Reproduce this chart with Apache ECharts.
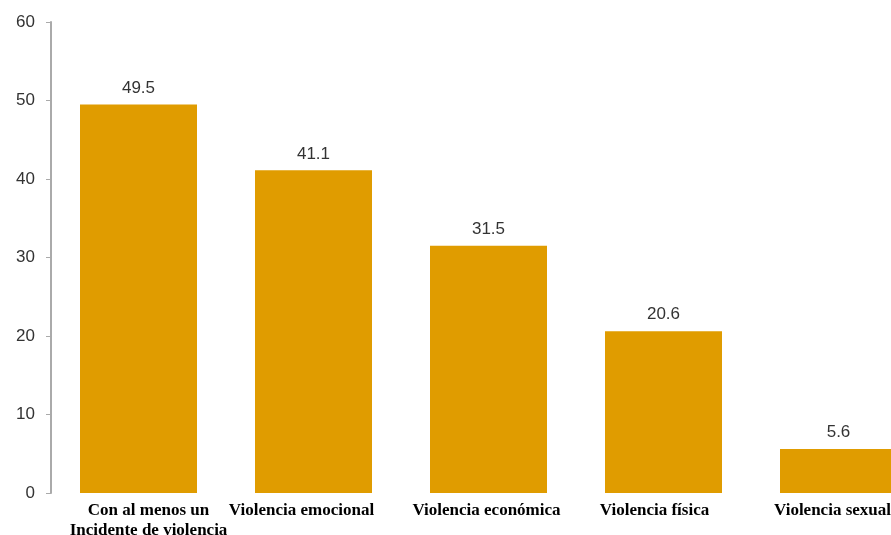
<html>
<head>
    <title>Violencia</title>
    <script src="https://cdn.jsdelivr.net/npm/echarts@6/dist/echarts.min.js"></script>
</head>
<body style="margin:0;">
<div id="chart" style="width: 891px; height: 535px;"></div>
<script type="text/javascript">
    var categories = ['Con al menos un\nIncidente de violencia', 'Violencia emocional', 'Violencia económica', 'Violencia física', 'Violencia sexual'];
    var values = [49.5, 41.1, 31.5, 20.6, 5.6];
    var yTicks = [0, 60, 10];
    // small nudges of the category labels (px, + = left), as in the source picture
    var labelShift = [-10, 12, 2, 9, 6];

    var myChart = echarts.init(document.getElementById('chart'));

    var catData = categories.map(function (c, i) {
        var s = labelShift[i];
        var pad = s >= 0 ? [0, s * 2, 0, 0] : [0, 0, 0, -s * 2];
        return { value: c, textStyle: { padding: pad } };
    });

    var option = {
        animation: false,
        grid: {
            left: 51,
            top: 22,
            bottom: 42,
            right: -35,
            outerBoundsMode: 'none',
            containLabel: false
        },
        xAxis: {
            type: 'category',
            data: catData,
            axisLine: { show: false },
            axisTick: { show: false },
            axisLabel: {
                interval: 0,
                margin: 8,
                fontFamily: 'Liberation Serif',
                fontWeight: 'bold',
                fontSize: 17,
                lineHeight: 20,
                color: '#000'
            }
        },
        yAxis: {
            type: 'value',
            min: yTicks[0],
            max: yTicks[1],
            interval: yTicks[2],
            splitLine: { show: false },
            axisLine: { show: true, lineStyle: { color: '#aaa', width: 2 } },
            axisTick: { show: true, length: 5, lineStyle: { color: '#aaa' } },
            axisLabel: {
                margin: 16,
                fontFamily: 'Liberation Sans',
                fontSize: 17,
                color: '#333'
            }
        },
        series: [
            {
                type: 'bar',
                data: values,
                barWidth: 117,
                itemStyle: { color: '#E09C00' },
                label: {
                    show: true,
                    position: 'top',
                    distance: 8,
                    fontFamily: 'Liberation Sans',
                    fontSize: 17,
                    color: '#333',
                    formatter: function (p) { return p.value.toFixed(1); }
                }
            }
        ]
    };

    myChart.setOption(option);
</script>
</body>
</html>
